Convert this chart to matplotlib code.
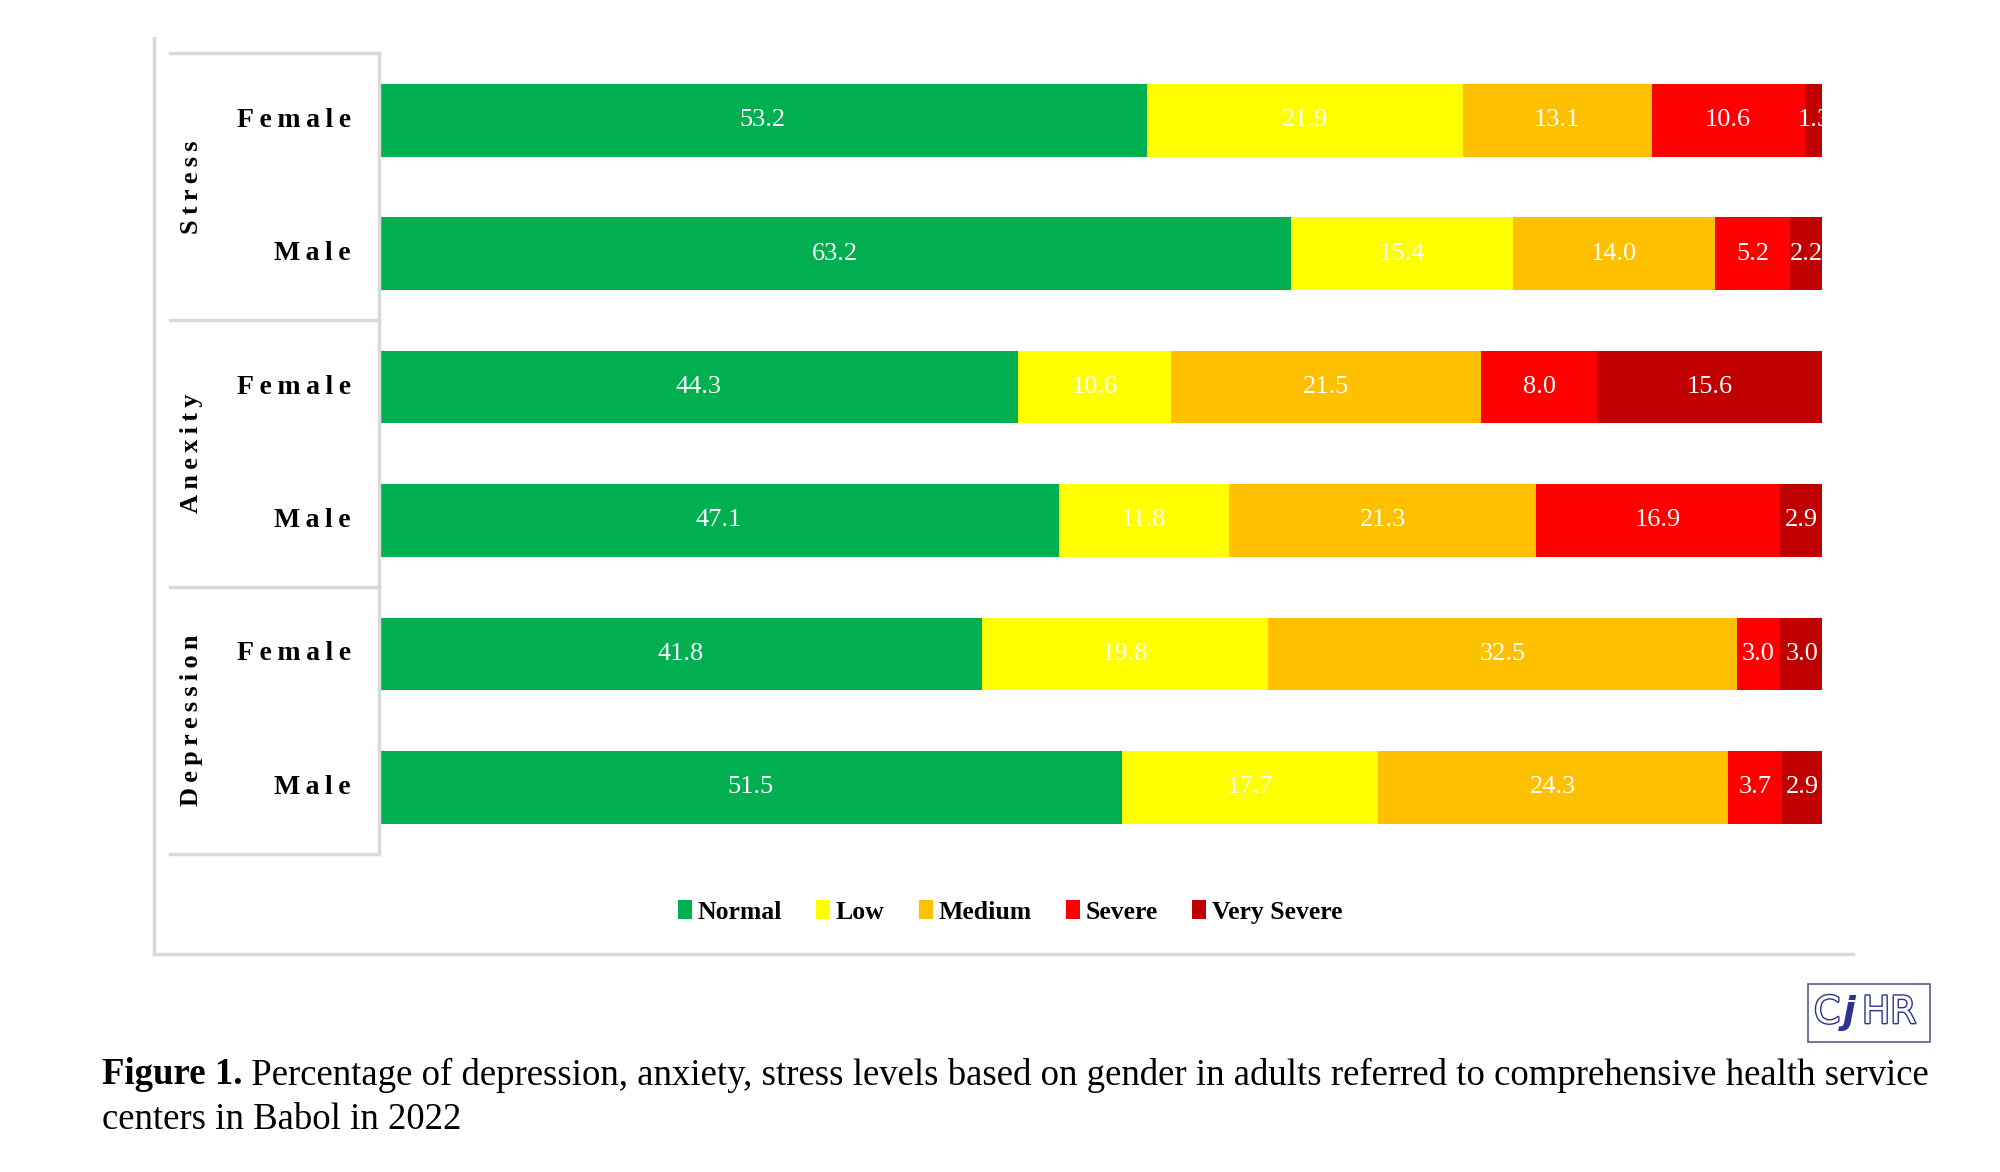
import matplotlib
matplotlib.use("Agg")
import matplotlib.pyplot as plt
import matplotlib.patheffects as pe
from matplotlib.lines import Line2D
from matplotlib.patches import Rectangle, Patch
import numpy as np

plt.rcParams['font.family'] = ['Liberation Serif', 'DejaVu Serif']

# data, top row first
groups = ['Stress', 'Anexity', 'Depression']
genders = ['Female', 'Male']
levels = ['Normal', 'Low', 'Medium', 'Severe', 'Very Severe']
normal = [53.2, 63.2, 44.3, 47.1, 41.8, 51.5]
low = [21.9, 15.4, 10.6, 11.8, 19.8, 17.7]
medium = [13.1, 14.0, 21.5, 21.3, 32.5, 24.3]
severe = [10.6, 5.2, 8.0, 16.9, 3.0, 3.7]
very_severe = [1.3, 2.2, 15.6, 2.9, 3.0, 2.9]
colors = ['#00B050', '#FFFF00', '#FFC000', '#FF0000', '#C00000']

caption_bold = 'Figure 1.'
caption_1 = ' Percentage of depression, anxiety, stress levels based on gender in adults referred to comprehensive health service'
caption_2 = 'centers in Babol in 2022'

W, H = 2000, 1172
SP = '\u2009'


def spaced(s):
    # letter-spaced labels like in the original chart
    return SP.join(s)


fig = plt.figure(figsize=(W / 100, H / 100), dpi=100)
AX_L, AX_R, AX_T, AX_B = 379, 1822, 53.5, 854
ax = fig.add_axes([AX_L / W, 1 - AX_B / H, (AX_R - AX_L) / W, (AX_B - AX_T) / H])

series = [normal, low, medium, severe, very_severe]
y = np.arange(len(normal))
left = np.zeros(len(normal))
for vals, col, name in zip(series, colors, levels):
    vals = np.array(vals)
    ax.barh(y, vals, left=left, height=0.545, color=col, label=name, edgecolor='none')
    for yi, l, v in zip(y, left, vals):
        ax.text(l + v / 2, yi, f'{v:.1f}', ha='center', va='center', color='white',
                fontsize=19, clip_on=True)
    left += vals

ax.set_xlim(0, 100)
ax.set_ylim(5.5, -0.5)
for s in ax.spines.values():
    s.set_visible(False)
ax.set_xticks([])
ax.set_yticks([])

# category table on the left
grey = '#D9D9D9'
tr = ax.get_yaxis_transform()
x0 = (170 - AX_L) / (AX_R - AX_L)
for yy in [-0.5, 1.5, 3.5, 5.5]:
    ax.plot([x0, 0], [yy, yy], transform=tr, color=grey, lw=2.5, clip_on=False)
ax.plot([0, 0], [-0.5, 5.5], transform=tr, color=grey, lw=2.5, clip_on=False)

for i, yi in enumerate(y):
    ax.text((351 - AX_L) / (AX_R - AX_L), yi, spaced(genders[i % 2]), transform=tr,
            ha='right', va='center', fontsize=20, fontweight='bold')
for g, name in enumerate(groups):
    ax.text((191 - AX_L) / (AX_R - AX_L), 2 * g + 0.5, spaced(name), transform=tr,
            rotation=90, ha='center', va='center', fontsize=19, fontweight='bold')

# outer chart frame (left and bottom)
fig.add_artist(Line2D([154 / W, 154 / W], [1 - 38 / H, 1 - 954 / H], color=grey, lw=2.5))
fig.add_artist(Line2D([154 / W, 1853 / W], [1 - 954 / H, 1 - 954 / H], color=grey, lw=2.5))

handles = [Patch(facecolor=c, edgecolor='none') for c in colors]
fig.legend(handles, levels, loc='center', bbox_to_anchor=(1010 / W, 1 - 912 / H), ncol=5,
           frameon=False, handlelength=0.55, handleheight=0.75, handletextpad=0.2,
           columnspacing=1.35, prop={'weight': 'bold', 'size': 18.5})

# caption
fig.canvas.draw()
r = fig.canvas.get_renderer()
tb = fig.text(102 / W, 1 - 1075 / H, caption_bold, fontsize=26.5, fontweight='bold', va='center')
bb = tb.get_window_extent(renderer=r)
fig.text(bb.x1 / W, 1 - 1075 / H, caption_1, fontsize=26.5, va='center')
fig.text(102 / W, 1 - 1120 / H, caption_2, fontsize=26.5, va='center')

# journal logo
navy = '#2E3192'
fig.add_artist(Rectangle((1808 / W, 1 - 1042 / H), 122 / W, 58 / H, transform=fig.transFigure,
                         facecolor='white', edgecolor='#5A5A8A', lw=1.2))
outline = [pe.withStroke(linewidth=2.0, foreground=navy)]
fig.text(1814 / W, 1 - 1013 / H, 'C', fontsize=27, family='DejaVu Sans',
         color='white', va='center', path_effects=outline)
fig.text(1843 / W, 1 - 1013 / H, 'j', fontsize=27, fontweight='bold', family='DejaVu Sans',
         style='italic', color=navy, va='center')
fig.text(1862 / W, 1 - 1013 / H, 'HR', fontsize=27, family='DejaVu Sans',
         color='white', va='center', path_effects=outline)

fig.savefig('out.png', dpi=100, facecolor='white')
